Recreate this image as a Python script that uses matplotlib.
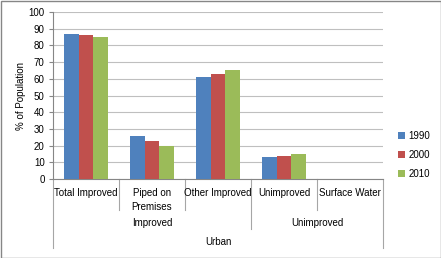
import matplotlib
matplotlib.use("Agg")
import matplotlib.pyplot as plt
import numpy as np
from matplotlib.patches import Rectangle

plt.rcParams['font.family'] = ['Liberation Sans', 'DejaVu Sans']

categories = ["Total Improved", "Piped on\nPremises", "Other Improved", "Unimproved", "Surface Water"]
groups = ["Improved", "Unimproved"]
group_sizes = [3, 2]
top_group = "Urban"
years = ["1990", "2000", "2010"]
v1990 = [87, 26, 61, 13, 0]
v2000 = [86, 23, 63, 14, 0]
v2010 = [85, 20, 65, 15, 0]
colors = ["#4F81BD", "#C0504D", "#9BBB59"]

fs = 7
fig = plt.figure(figsize=(4.41, 2.58), dpi=100)
ax = fig.add_axes([53/441, 1 - 179/258, 330/441, 167/258])

x = np.arange(len(categories))
w = 0.222
for i, (vals, c, lab) in enumerate(zip([v1990, v2000, v2010], colors, years)):
    ax.bar(x + (i - 1) * w, vals, w, color=c, label=lab, zorder=3)

ax.set_xlim(-0.5, len(categories) - 0.5)
ax.set_ylim(0, 100)
ax.set_yticks(range(0, 101, 10))
ax.tick_params(axis='y', labelsize=fs, length=3, color='#868686', pad=3)
ax.set_xticks([])
ax.grid(axis='y', color='#BFBFBF', linewidth=0.8, zorder=0)
for s in ['top', 'right']:
    ax.spines[s].set_visible(False)
ax.spines['left'].set_color('#868686')
ax.spines['bottom'].set_color('#868686')
ax.set_ylabel("% of Population", fontsize=fs, labelpad=2)

# multi-level category labels
trans = ax.get_xaxis_transform()
px = 1 / 167  # axes fraction per pixel (height)
for xi, lab in zip(x, categories):
    ax.text(xi, -9 * px, lab, transform=trans, ha='center', va='top',
            fontsize=fs, linespacing=1.45, clip_on=False)
line_kw = dict(transform=trans, color='#A6A6A6', linewidth=0.8, clip_on=False)
bounds = np.arange(len(categories) + 1) - 0.5
group_edges = np.cumsum([0] + group_sizes) - 0.5
for b in bounds:
    if b in (bounds[0], bounds[-1]):
        depth = 69
    elif b in group_edges:
        depth = 50
    else:
        depth = 31
    ax.plot([b, b], [0, -depth * px], **line_kw)
for gi, g in enumerate(groups):
    c = (group_edges[gi] + group_edges[gi + 1]) / 2
    ax.text(c, -44 * px, g, transform=trans, ha='center', va='center',
            fontsize=fs, clip_on=False)
ax.text((bounds[0] + bounds[-1]) / 2, -63 * px, top_group, transform=trans,
        ha='center', va='center', fontsize=fs, clip_on=False)

ax.legend(loc='center left', bbox_to_anchor=(1.02, 0.145), frameon=False,
          fontsize=fs, handlelength=0.7, handleheight=0.7, handletextpad=0.3,
          labelspacing=0.95)

fig.add_artist(Rectangle((0.5/441, 0.5/258), 440/441, 257/258, transform=fig.transFigure,
                         fill=False, edgecolor='#868686', linewidth=1))

fig.savefig("out.png", dpi=100)
